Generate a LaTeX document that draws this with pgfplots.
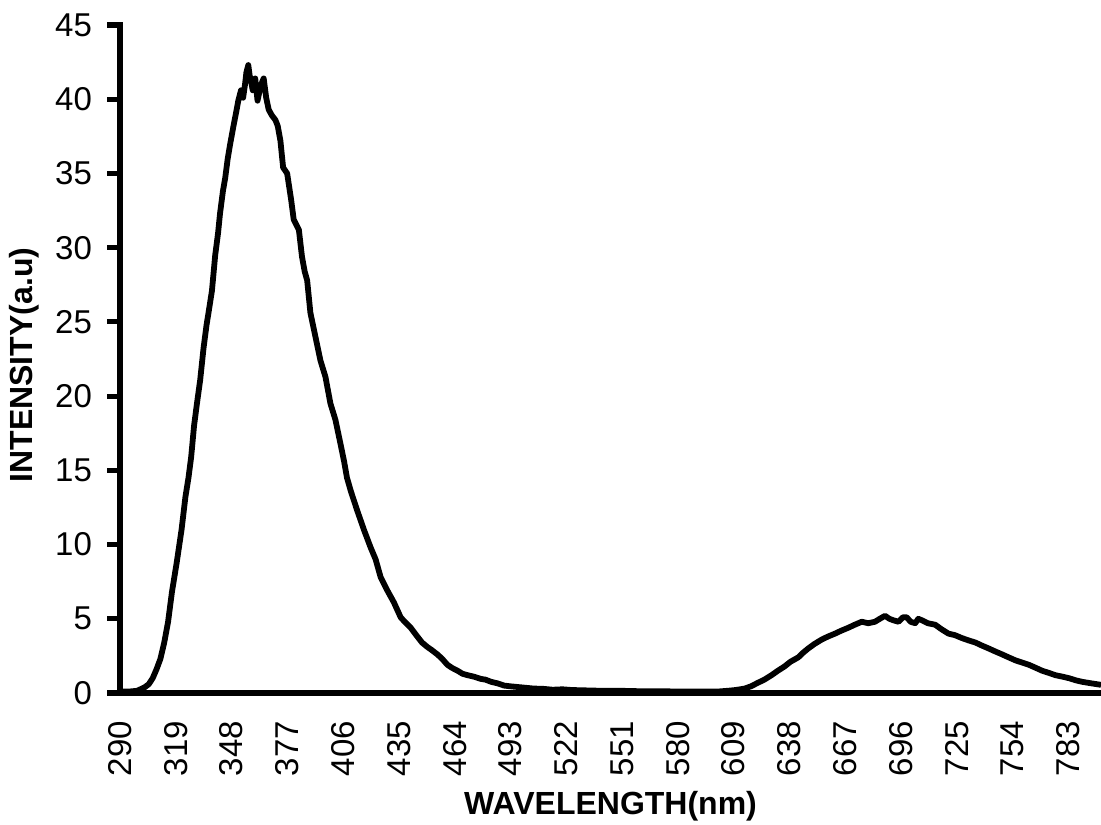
\documentclass[border=0pt]{standalone}
\usepackage{fontspec}
\setmainfont{Liberation Sans}
\usepackage{pgfplots}
\pgfplotsset{compat=1.18}
\usepackage{pgfplotstable}
\pgfplotstableread{
nm val
290 0.1
295 0.1
299 0.15
303 0.4
305 0.6
307 1.0
309 1.6
311 2.3
313 3.4
315 4.8
317 6.8
319.5 8.8
322 11.0
324 13.2
325.6 14.5
327 15.9
328.5 18.0
330 19.5
331.7 21.1
333.4 23.2
335 24.8
336 25.6
337.8 27.1
339.5 29.5
341 31.0
342 32.3
343.5 33.8
344.7 34.7
346 36.0
347.3 37.0
349 38.2
350.5 39.2
351.5 39.9
352.9 40.6
354 40.1
355 41.0
355.7 41.8
356.7 42.3
357.4 41.6
358 41.3
359 40.6
360.3 41.4
361.5 39.9
362.3 40.4
363 40.8
364 41.2
364.7 41.4
366 40.1
367.3 39.3
369 38.9
370.8 38.6
372 38.2
373.4 37.2
374.8 35.4
376.9 35.0
379 33.2
380.3 31.9
383 31.2
384.6 29.4
386 28.4
387.3 27.8
389 25.6
391.6 24.0
394.2 22.4
396.8 21.3
399.4 19.5
402 18.4
404.6 16.8
406.5 15.6
408 14.5
410 13.6
413.3 12.3
416.8 11.0
420.3 9.8
422.9 9.0
425.5 7.8
429 6.9
432.4 6.1
435.9 5.1
438 4.8
441.1 4.4
444.6 3.8
447 3.4
449.8 3.1
452 2.9
455 2.6
457.5 2.3
460.2 1.9
462.5 1.7
465.5 1.5
468 1.3
470.7 1.2
474 1.1
477.6 0.95
480 0.9
483 0.75
486.3 0.65
489.7 0.5
493 0.45
497 0.4
501 0.35
505 0.3
510 0.28
515 0.22
520 0.25
525 0.2
531 0.18
540 0.15
550 0.15
560 0.12
570 0.12
580 0.1
590 0.1
601 0.1
606 0.15
610 0.2
614.8 0.3
618 0.45
621.8 0.7
625 0.9
628.7 1.2
632 1.5
635.6 1.8
638.5 2.1
642.6 2.4
645 2.7
647.8 3.0
651 3.3
654.8 3.6
658 3.8
661.7 4.0
665 4.2
668.7 4.4
672 4.6
675.6 4.8
679 4.7
682.5 4.8
685 5.0
687.7 5.2
690 5.0
692 4.9
694.7 4.8
697 5.1
699 5.1
701 4.8
703.4 4.7
705 5.0
706.9 4.9
710 4.7
713.8 4.6
717 4.3
720.7 4.0
724 3.9
727.7 3.7
731 3.55
734.7 3.4
738 3.2
741.6 3.0
745 2.8
748.6 2.6
752 2.4
755.5 2.2
759 2.05
762.5 1.9
766 1.7
769.4 1.5
773 1.35
776.3 1.2
780 1.1
783.3 1.0
787 0.85
790.3 0.75
795 0.65
800 0.55
}\spectrum
\begin{document}
\begin{tikzpicture}
\begin{axis}[
  at={(60pt,65.5pt)}, anchor=south west,
  scale only axis,
  width=490.5pt, height=334pt,
  xmin=290, xmax=800, ymin=0, ymax=45,
  axis x line*=bottom, axis y line*=left,
  axis line style={line width=2.8pt, line cap=rect},
  xtick={290,319,...,783},
  ytick={0,5,...,45},
  x tick style={draw=none},
  y tick style={line width=2.6pt, black},
  tick align=outside,
  major tick length=6.5pt,
  /pgf/number format/assume math mode=true,
  tick label style={font=\fontsize{16.5}{19}\selectfont},
  xticklabel style={rotate=90, anchor=east, xshift=-4pt},
  yticklabel style={xshift=-4pt},
  xlabel={WAVELENGTH(nm)},
  ylabel={INTENSITY(a.u)},
  label style={font=\bfseries\fontsize{16}{19}\selectfont},
  xlabel style={at={(rel axis cs:0.5,-0.1826)}, anchor=base},
  ylabel style={at={(rel axis cs:-0.0979,0.491)}, anchor=center, rotate=0},
  clip=false,
]
\addplot[black, line width=2.9pt, line join=round] table[x=nm, y=val] {\spectrum};
\end{axis}
\pgfresetboundingbox
\useasboundingbox (0,0) rectangle (550.5pt,412pt);
\end{tikzpicture}
\end{document}
